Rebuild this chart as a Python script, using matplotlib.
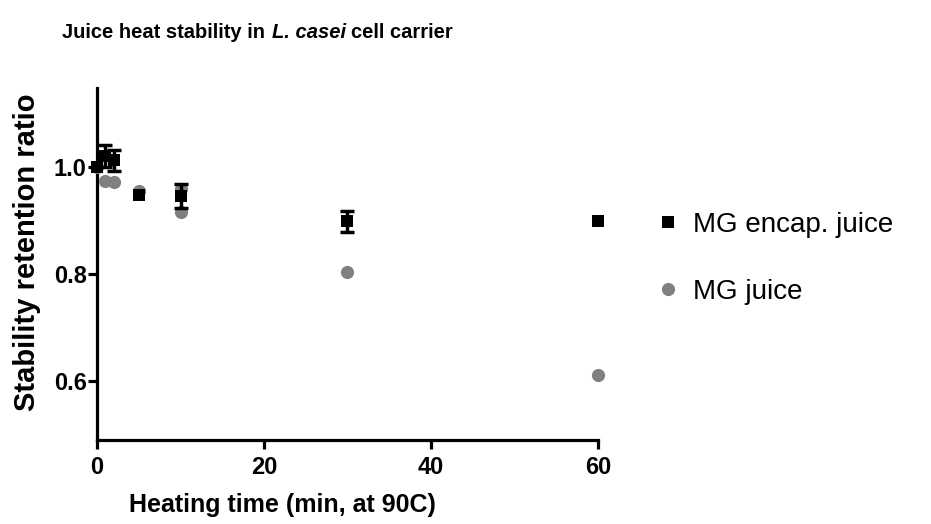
import numpy as np
import matplotlib
matplotlib.use("Agg")
from matplotlib import pyplot as plt

# heating time (min) and stability retention ratio
encap_time = [0, 1, 2, 5, 10, 30, 60]
encap_ratio = [1.0, 1.02, 1.012, 0.948, 0.945, 0.898, 0.899]
encap_err = [0.0, 0.02, 0.02, 0.0, 0.022, 0.02, 0.0]

juice_time = [0, 1, 2, 5, 10, 10, 30, 60]
juice_ratio = [1.0, 0.974, 0.972, 0.954, 0.958, 0.915, 0.803, 0.612]

xticks = [0, 20, 40, 60]
yticks = [0.6, 0.8, 1.0]

plt.rcParams['font.family'] = ['Liberation Sans', 'DejaVu Sans']

fig = plt.figure(figsize=(9.31, 5.24), dpi=100)
ax = fig.add_axes([0.1042, 0.1603, 0.5381, 0.6718])

ax.plot(juice_time, juice_ratio, 'o', color='#808080', markersize=9.5,
        markeredgewidth=0, label='MG juice', clip_on=False, zorder=3)
# only points with a measured spread get error bars
t = np.array(encap_time)
r = np.array(encap_ratio)
e = np.array(encap_err)
m = e > 0
ax.errorbar(t[m], r[m], yerr=e[m], fmt='none', ecolor='black',
            elinewidth=2.5, capsize=5, capthick=2.5, clip_on=False, zorder=4)
ax.plot(encap_time, encap_ratio, 's', color='black', markersize=8.5,
        markeredgewidth=0, label='MG encap. juice', clip_on=False, zorder=5)

ax.set_xlim(0, 60)
ax.set_ylim(0.49, 1.147)
ax.set_xticks(xticks)
ax.set_yticks(yticks)
ax.yaxis.set_major_formatter(matplotlib.ticker.StrMethodFormatter('{x:.1f}'))
for s in ['top', 'right']:
    ax.spines[s].set_visible(False)
for s in ['left', 'bottom']:
    ax.spines[s].set_linewidth(2.3)
ax.tick_params(direction='out', length=6.5, width=2.3, labelsize=17)
ax.tick_params(axis='x', pad=5)
ax.tick_params(axis='y', pad=1)
for lab in ax.get_xticklabels() + ax.get_yticklabels():
    lab.set_fontweight('bold')

ax.set_xlabel('Heating time (min, at 90C)', fontsize=18, fontweight='bold')
ax.xaxis.set_label_coords(0.371, -0.151)
ax.set_ylabel('Stability retention ratio', fontsize=21, fontweight='bold')
ax.yaxis.set_label_coords(-0.112, 0.534)

# title in three pieces so the species name can be italic
t1 = fig.text(0.067, 0.92, 'Juice heat stability in', fontsize=14.5,
              fontweight='bold', ha='left', va='bottom')
t2 = ax.annotate('L. casei', xy=(1, 0), xycoords=t1, xytext=(4.5, 0),
                 textcoords='offset points', fontsize=14.5, fontweight='bold',
                 style='italic', ha='left', va='bottom')
t3 = ax.annotate('cell carrier', xy=(1, 0), xycoords=t2, xytext=(4, 0),
                 textcoords='offset points', fontsize=14.5, fontweight='bold',
                 ha='left', va='bottom')

h, l = ax.get_legend_handles_labels()
leg = ax.legend(h[::-1], l[::-1], loc='upper left', bbox_to_anchor=(0.6757, 0.644),
                bbox_transform=fig.transFigure, frameon=False, fontsize=20,
                handlelength=1.0, handletextpad=0.4, labelspacing=1.5, numpoints=1)

fig.savefig('out.png', dpi=100)
